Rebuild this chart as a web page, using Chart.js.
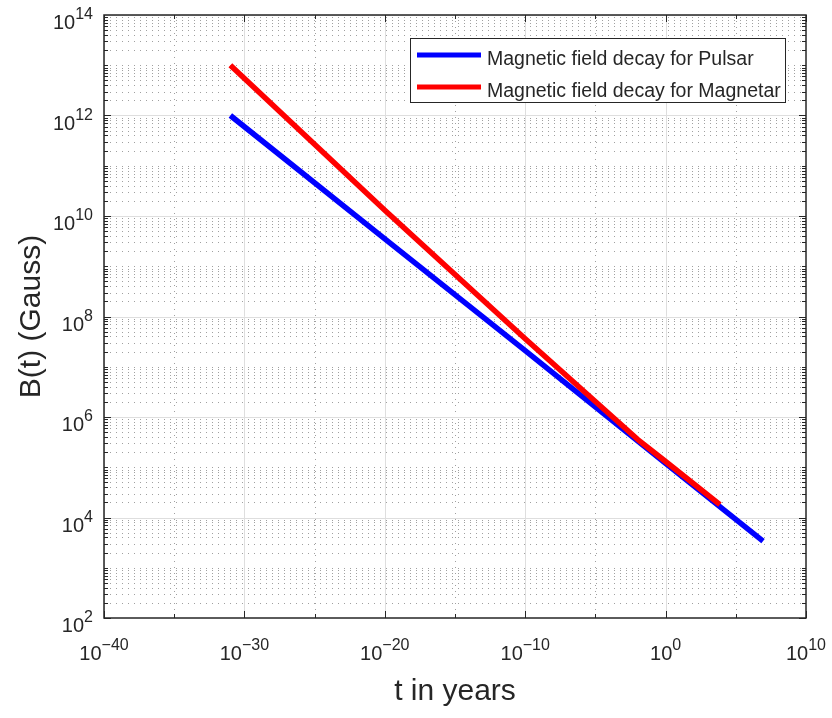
<!DOCTYPE html>
<html>
<head>
<meta charset="utf-8">
<script src="https://cdn.jsdelivr.net/npm/chart.js@4.4.0/dist/chart.umd.min.js"></script>
<style>
  html, body { margin: 0; padding: 0; background: #fff; }
  canvas { display: block; }
</style>
</head>
<body>
<canvas id="myChart" width="832" height="718"></canvas>
<script>
// values
const pulsarT = [1e-31, 1e-20, 1e-10, 1e0, 8.7e6];
const pulsarB = [1e12, 3.5e9, 2.1e7, 1.2e5, 3.4e3];
const magnetarT = [1e-31, 1e-20, 1e-10, 1e-2, 1e0, 7.4e3];
const magnetarB = [1e13, 1.3e10, 3.6e7, 3.6e5, 1.3e5, 1.8e4];
const xTickExps = [-40, -30, -20, -10, 0, 10];
const yTickExps = [2, 4, 6, 8, 10, 12, 14];
const seriesNames = ['Magnetic field decay for Pulsar', 'Magnetic field decay for Magnetar'];
const seriesColors = ['#0000ff', '#ff0000'];

const ink = '#262626';
const fontFam = '"Liberation Sans", Arial, sans-serif';

function seg(ctx, x1, y1, x2, y2) {
  ctx.beginPath();
  ctx.moveTo(x1, y1);
  ctx.lineTo(x2, y2);
  ctx.stroke();
}

// "10" with a raised exponent, like matlab's 10^{n}
function expStr(exp) {
  return exp < 0 ? '\u2212' + (-exp) : String(exp);
}
function powText(ctx, exp, left, baseY) {
  ctx.font = '20px ' + fontFam;
  ctx.fillText('10', left, baseY);
  const w = ctx.measureText('10').width;
  ctx.font = '16px ' + fontFam;
  ctx.fillText(expStr(exp), left + w, baseY - 10);
}
function powWidth(ctx, exp) {
  ctx.font = '20px ' + fontFam;
  const w = ctx.measureText('10').width;
  ctx.font = '16px ' + fontFam;
  return w + ctx.measureText(expStr(exp)).width;
}

const matlabAxes = {
  id: 'matlabAxes',
  beforeDatasetsDraw(chart) {
    const { ctx, chartArea: a, scales: { x, y } } = chart;
    ctx.save();
    ctx.beginPath();
    ctx.rect(a.left, a.top, a.right - a.left, a.bottom - a.top);
    ctx.clip();

    // minor grid, dotted
    ctx.strokeStyle = '#a0a0a0';
    ctx.lineWidth = 1;
    ctx.setLineDash([1, 5]);
    for (let e = yTickExps[0]; e < yTickExps[yTickExps.length - 1]; e++) {
      for (let k = 1; k < 10; k++) {
        if (k === 1 && yTickExps.includes(e)) continue;
        const py = Math.round(y.getPixelForValue(k * Math.pow(10, e))) + 0.5;
        seg(ctx, a.left, py, a.right, py);
      }
    }
    for (let i = 0; i < xTickExps.length - 1; i++) {
      const px = Math.round(x.getPixelForValue(Math.pow(10, xTickExps[i] + 5))) + 0.5;
      seg(ctx, px, a.top, px, a.bottom);
    }

    // major grid, solid
    ctx.setLineDash([]);
    ctx.strokeStyle = '#dedede';
    yTickExps.forEach(e => {
      const py = Math.round(y.getPixelForValue(Math.pow(10, e))) + 0.5;
      seg(ctx, a.left, py, a.right, py);
    });
    xTickExps.forEach(e => {
      const px = Math.round(x.getPixelForValue(Math.pow(10, e))) + 0.5;
      seg(ctx, px, a.top, px, a.bottom);
    });
    ctx.restore();
  },
  afterDatasetsDraw(chart) {
    const { ctx, chartArea: a, scales: { x, y } } = chart;
    ctx.save();
    ctx.strokeStyle = ink;
    ctx.fillStyle = ink;

    // inward tick marks on all four sides
    ctx.lineWidth = 1;
    for (let e = yTickExps[0]; e < yTickExps[yTickExps.length - 1]; e++) {
      for (let k = 1; k < 10; k++) {
        const py = Math.round(y.getPixelForValue(k * Math.pow(10, e))) + 0.5;
        const len = (k === 1 && yTickExps.includes(e)) ? 7 : 4;
        seg(ctx, a.left, py, a.left + len, py);
        seg(ctx, a.right, py, a.right - len, py);
      }
    }
    for (let e = xTickExps[0]; e <= xTickExps[xTickExps.length - 1]; e += 5) {
      const px = Math.round(x.getPixelForValue(Math.pow(10, e))) + 0.5;
      const len = xTickExps.includes(e) ? 7 : 4;
      seg(ctx, px, a.bottom, px, a.bottom - len);
      seg(ctx, px, a.top, px, a.top + len);
    }

    // box
    ctx.lineWidth = 1.5;
    ctx.strokeRect(a.left, a.top, a.right - a.left, a.bottom - a.top);

    // tick labels
    ctx.textAlign = 'left';
    ctx.textBaseline = 'alphabetic';
    xTickExps.forEach(e => {
      const px = x.getPixelForValue(Math.pow(10, e));
      const w = powWidth(ctx, e);
      powText(ctx, e, px - w / 2, a.bottom + 42);
    });
    yTickExps.forEach(e => {
      const py = y.getPixelForValue(Math.pow(10, e));
      const w = powWidth(ctx, e);
      powText(ctx, e, a.left - 11 - w, py + 14);
    });

    // axis titles
    ctx.font = '30px ' + fontFam;
    ctx.textAlign = 'center';
    ctx.fillText('t in years', (a.left + a.right) / 2, 700);
    ctx.save();
    ctx.translate(40, (a.top + a.bottom) / 2);
    ctx.rotate(-Math.PI / 2);
    ctx.fillText('B(t) (Gauss)', 0, 0);
    ctx.restore();

    // legend box
    const lx = 410, ly = 38, lw = 375, lh = 64;
    ctx.fillStyle = '#fff';
    ctx.fillRect(lx, ly, lw, lh);
    ctx.lineWidth = 1;
    ctx.strokeStyle = ink;
    ctx.strokeRect(lx + 0.5, ly + 0.5, lw, lh);
    ctx.font = '19.5px ' + fontFam;
    ctx.textAlign = 'left';
    seriesNames.forEach((name, i) => {
      const yy = 55 + i * 32;
      ctx.strokeStyle = seriesColors[i];
      ctx.lineWidth = 5;
      seg(ctx, 417, yy, 481, yy);
      ctx.fillStyle = ink;
      ctx.fillText(name, 487, yy + 10);
    });
    ctx.restore();
  }
};

const ctx = document.getElementById('myChart');

new Chart(ctx, {
  type: 'line',
  data: {
    datasets: [{
      label: seriesNames[0],
      data: pulsarT.map((t, i) => ({ x: t, y: pulsarB[i] })),
      borderColor: seriesColors[0],
      borderWidth: 5.5,
      pointRadius: 0,
      tension: 0,
      order: 2
    }, {
      label: seriesNames[1],
      data: magnetarT.map((t, i) => ({ x: t, y: magnetarB[i] })),
      borderColor: seriesColors[1],
      borderWidth: 5.5,
      pointRadius: 0,
      tension: 0,
      borderJoinStyle: 'round',
      order: 1
    }]
  },
  options: {
    responsive: false,
    animation: false,
    devicePixelRatio: 1,
    layout: { padding: { left: 104, top: 15, right: 26, bottom: 100 } },
    plugins: {
      legend: { display: false },
      tooltip: { enabled: false }
    },
    scales: {
      x: { type: 'logarithmic', display: false, min: 1e-40, max: 1e10 },
      y: { type: 'logarithmic', display: false, min: 1e2, max: 1e14 }
    }
  },
  plugins: [matlabAxes]
});
</script>
</body>
</html>
